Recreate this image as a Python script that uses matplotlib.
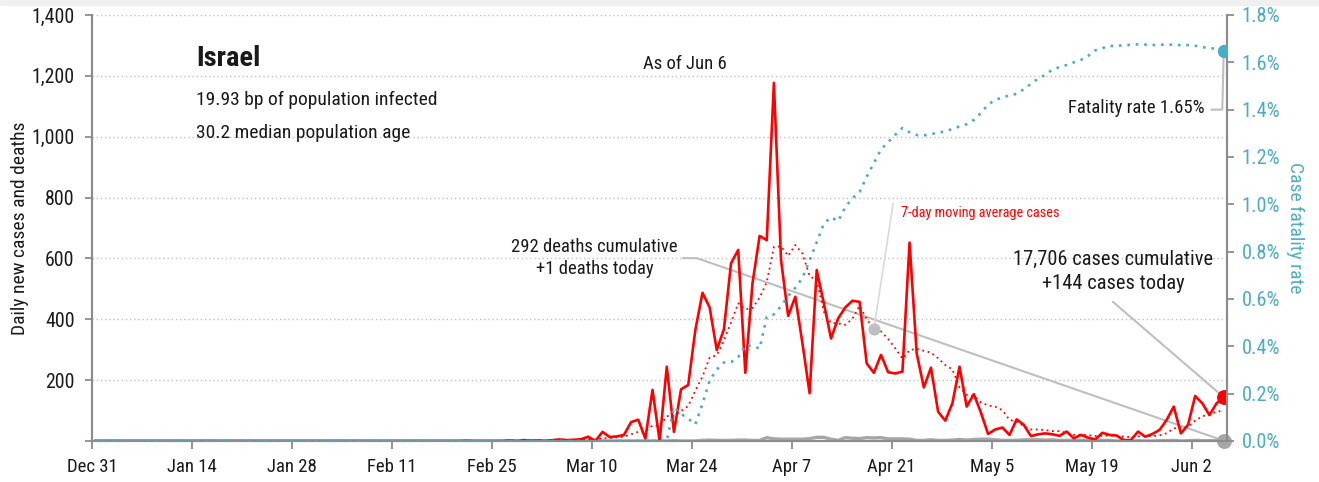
import matplotlib.pyplot as plt
import pandas as pd
from matplotlib.ticker import FuncFormatter
from matplotlib.patches import Rectangle

plt.rcParams['font.family'] = ['Roboto Condensed', 'IBM Plex Sans Condensed', 'DejaVu Sans']

# daily new cases, Dec 31 2019 .. Jun 6 2020 (one row per fortnight)
cases = [
    0, 0, 0, 0, 0, 0, 0, 0, 0, 0, 0, 0, 0, 0,
    0, 0, 0, 0, 0, 0, 0, 0, 0, 0, 0, 0, 0, 0,
    0, 0, 0, 0, 0, 0, 0, 0, 0, 0, 0, 0, 0, 0,
    0, 0, 0, 0, 0, 0, 0, 0, 0, 0, 1, 0, 0, 0,
    0, 0, 2, 0, 3, 1, 2, 0, 3, 5, 3, 4, 6, 14,
    0, 30, 13, 15, 20, 62, 70, 8, 168, 0, 244, 30, 170, 184,
    365, 487, 439, 299, 367, 584, 628, 224, 518, 674, 660, 1177, 595, 411,
    474, 321, 157, 562, 452, 337, 403, 439, 461, 457, 255, 224, 283, 226,
    222, 228, 652, 288, 176, 241, 96, 67, 124, 244, 113, 154, 93, 23,
    38, 44, 20, 71, 53, 16, 22, 25, 22, 17, 31, 9, 20, 11,
    5, 27, 20, 18, 3, 3, 31, 14, 23, 36, 69, 113, 25, 53,
    148, 124, 85, 124, 144,
]

# daily new deaths, same days
deaths = [
    0, 0, 0, 0, 0, 0, 0, 0, 0, 0, 0, 0, 0, 0,
    0, 0, 0, 0, 0, 0, 0, 0, 0, 0, 0, 0, 0, 0,
    0, 0, 0, 0, 0, 0, 0, 0, 0, 0, 0, 0, 0, 0,
    0, 0, 0, 0, 0, 0, 0, 0, 0, 0, 0, 0, 0, 0,
    0, 0, 0, 0, 0, 0, 0, 0, 0, 0, 0, 0, 0, 0,
    0, 0, 0, 0, 0, 0, 0, 0, 0, 0, 0, 1, 0, 0,
    0, 2, 3, 2, 2, 2, 3, 3, 2, 2, 11, 7, 6, 6,
    6, 6, 8, 12, 12, 6, 2, 11, 9, 8, 11, 10, 11, 7,
    7, 7, 6, 2, 2, 4, 2, 2, 3, 5, 3, 5, 6, 6,
    4, 2, 2, 2, 4, 4, 4, 3, 4, 2, 2, 2, 2, 3,
    4, 2, 2, 0, 1, 0, 1, 0, 0, 1, 1, 2, 0, 1,
    2, 1, 1, 1, 1,
]

tick_labels = ['Dec 31', 'Jan 14', 'Jan 28', 'Feb 11', 'Feb 25', 'Mar 10',
               'Mar 24', 'Apr 7', 'Apr 21', 'May 5', 'May 19', 'Jun 2']

RED = '#FF0000'
BLUE = '#4BACC6'
GREY = '#A6A6A6'
LIGHT = '#BFBFBF'
AXIS = '#8C8C8C'
INK = '#1A1A1A'

df = pd.DataFrame({'cases': cases, 'deaths': deaths},
                  index=pd.date_range('2019-12-31 12:00', periods=len(cases), freq='D'))
df['avg7'] = df['cases'].rolling(7, min_periods=1).mean()
df['cfr'] = (df['deaths'].cumsum() / df['cases'].cumsum()).fillna(0) * 100
last = df.index[-1]

fig = plt.figure(figsize=(13.19, 4.82), dpi=100)
fig.patches.append(Rectangle((0, 1 - 5 / 482), 1, 5 / 482, transform=fig.transFigure,
                             color='#F0F0F0', zorder=0))
ax = fig.add_axes([92 / 1319, 41 / 482, 1135 / 1319, 426 / 482])
ax2 = ax.twinx()

# lines
ax.plot(df.index, df['deaths'], color=GREY, lw=2.4, zorder=3)
ax.plot(df.index, df['avg7'], color=RED, lw=1.3, ls=(0, (1, 2)), zorder=4)
ax.plot(df.index, df['cases'], color=RED, lw=1.9, zorder=5)
ax2.plot(df.index, df['cfr'], color=BLUE, lw=1.9, ls=(0, (1, 2.2)), zorder=4)

# end markers
ax.scatter([last], [df['cases'].iloc[-1]], s=95, color=RED, zorder=6)
ax.scatter([last], [df['deaths'].iloc[-1]], s=95, color=GREY, zorder=6, clip_on=False)
ax2.scatter([last], [df['cfr'].iloc[-1]], s=75, color=BLUE, zorder=6)

# axes
ax.set_xlim(pd.Timestamp('2019-12-31'), pd.Timestamp('2020-06-06 23:00'))
ax.set_ylim(0, 1400)
ax2.set_ylim(0, 1.8)
ticks = pd.date_range('2019-12-31', '2020-06-02', freq='14D')
ax.set_xticks(ticks)
ax.set_xticklabels(tick_labels)
ax.set_yticks(range(0, 1401, 200))
ax.yaxis.set_major_formatter(FuncFormatter(lambda v, p: '' if v == 0 else f'{v:,.0f}'))
ax2.set_yticks([i / 5 for i in range(10)])
ax2.yaxis.set_major_formatter(FuncFormatter(lambda v, p: f'{v:.1f}%'))

ax.grid(axis='y', color=LIGHT, ls=(0, (1, 2)), lw=1)
for a in (ax, ax2):
    a.spines['top'].set_visible(False)
    for s in ('left', 'right', 'bottom'):
        a.spines[s].set_color(AXIS)
        a.spines[s].set_linewidth(1.5)
ax.tick_params(axis='x', colors=AXIS, labelcolor=INK, labelsize=13.5, length=6, width=1.3, pad=6)
ax.tick_params(axis='y', colors=AXIS, labelcolor=INK, labelsize=14.3, length=5, width=1.3, pad=7.5)
ax2.tick_params(axis='y', colors=AXIS, labelcolor=BLUE, labelsize=14.8, length=5, width=1.3, pad=5.5)
ax.set_ylabel('Daily new cases and deaths', fontsize=14, color=INK, labelpad=2)
ax2.set_ylabel('Case fatality rate', fontsize=14, color=BLUE, rotation=270, labelpad=17)

# annotations
ax.text(0.0916, 0.897, 'Israel', transform=ax.transAxes, fontsize=20.5, fontweight='bold',
        va='center', ha='left', color=INK)
ax.text(0.0916, 0.80, '19.93 bp of population infected', transform=ax.transAxes,
        fontsize=14, va='center', ha='left', color=INK)
ax.text(0.0916, 0.723, '30.2 median population age', transform=ax.transAxes,
        fontsize=14, va='center', ha='left', color=INK)
ax.text(0.5225, 0.885, 'As of Jun 6', transform=ax.transAxes, fontsize=13.5,
        va='center', ha='center', color=INK)
ax.text(0.443, 0.4296, '292 deaths cumulative\n+1 deaths today', transform=ax.transAxes,
        fontsize=13.4, va='center', ha='center', linespacing=1.3, color=INK)
ax.text(0.8996, 0.398, '17,706 cases cumulative\n+144 cases today', transform=ax.transAxes,
        fontsize=14.8, va='center', ha='center', linespacing=1.32, color=INK)
ax.text(0.98, 0.7817, 'Fatality rate 1.65%', transform=ax.transAxes, fontsize=13.5,
        va='center', ha='right', color=INK)
ax.text(0.7128, 0.535, '7-day moving average cases', transform=ax.transAxes, fontsize=10.3,
        va='center', ha='left', color=RED)

# connector lines
d0 = pd.Timestamp('2019-12-31')
day = lambda n: d0 + pd.Timedelta(days=n)
ax.plot([day(82.8), day(84.7), last], [601, 601, df['deaths'].iloc[-1]],
        color=LIGHT, lw=1.5, zorder=2)
ax.plot([day(143), last], [457, df['cases'].iloc[-1]], color=LIGHT, lw=1.5, zorder=2)
dot_day = day(109.5)
dot_val = df['avg7'].iloc[109]
ax.plot([dot_day, day(112.2)], [dot_val, 780], color='#D9D9D9', lw=1.2, zorder=2)
ax.scatter([dot_day], [dot_val], s=60, color=LIGHT, zorder=6)
ax2.plot([day(156.8), day(158.3), last], [1.40, 1.40, df['cfr'].iloc[-1]],
         color=LIGHT, lw=1.5, zorder=2)

fig.savefig('out.png', dpi=100)
